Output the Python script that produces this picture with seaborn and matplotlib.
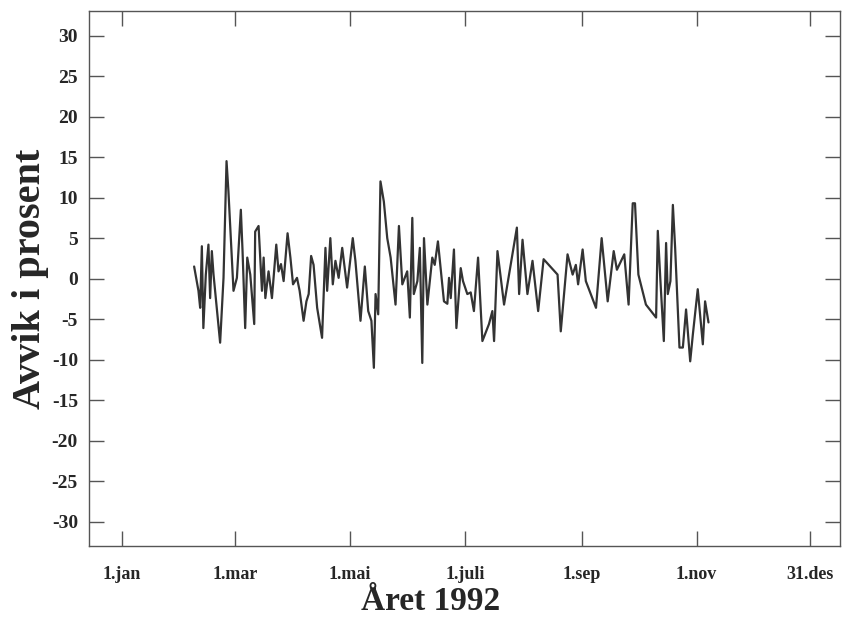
import matplotlib
matplotlib.use("Agg")
import matplotlib.pyplot as plt
import seaborn as sns
import pandas as pd

# Day of year 1992 (1 = 1 Jan) and deviation in percent
days = [39.3, 41.6, 42.5, 43.4, 44.2, 45.5, 46.9, 47.8, 48.7, 49.6, 53.1, 54.9,
        56.5, 57.5, 60.2, 62.0, 64.1, 65.0, 66.4, 67.5, 69.1, 71.2, 71.7, 73.5,
        75.3, 76.2, 77.1, 78.8, 80.6, 82.9, 84.1, 85.4, 86.8, 88.9, 90.4, 91.8,
        93.9, 95.3, 97.4, 98.9, 100.1, 101.4, 102.7, 104.6, 107.2, 109.0, 109.9,
        111.6, 112.9, 114.3, 116.0, 117.9, 120.5, 123.5, 124.9, 127.6, 129.9,
        131.7, 133.4, 134.7, 135.6, 137.0, 138.2, 140.0, 141.8, 143.6, 146.2,
        148.0, 149.8, 152.4, 153.8, 155.1, 155.9, 157.8, 159.1, 160.4, 161.3,
        163.1, 165.7, 167.0, 168.7, 171.9, 173.7, 174.6, 175.5, 177.2, 178.5,
        180.8, 182.0, 184.3, 186.1, 187.8, 190.0, 192.3, 195.8, 197.6, 198.5,
        200.3, 203.8, 210.6, 211.8, 213.6, 216.2, 218.9, 221.9, 224.8, 232.2,
        233.9, 237.5, 240.2, 241.9, 243.1, 245.5, 247.2, 252.6, 255.6, 258.8,
        262.0, 263.7, 267.6, 269.9, 272.1, 273.3, 275.1, 279.1, 284.5, 285.4,
        286.8, 288.6, 289.8, 290.7, 292.1, 293.4, 294.6, 296.9, 298.7, 300.4,
        302.6, 304.0, 306.6, 309.3, 310.5, 312.3]
values = [1.5, -1.5, -3.6, 4.0, -6.1, 0.5, 4.2, -2.4, 3.4, 0.5, -7.9, 0.1,
          14.5, 10.8, -1.5, 0.1, 8.5, 3.4, -6.1, 2.6, 0.5, -5.6, 5.8, 6.5,
          -1.5, 2.6, -2.4, 0.9, -2.4, 4.2, 0.9, 1.8, -0.3, 5.6, 2.6, -0.7,
          0.1, -1.5, -5.2, -2.8, -1.9, 2.8, 1.7, -3.6, -7.3, 3.8, -1.5,
          5.0, -0.7, 2.2, 0.1, 3.8, -1.1, 5.0, 2.2, -5.2, 1.5,
          -4.0, -5.2, -11.0, -1.9, -4.4, 12.0, 9.5, 5.0, 2.6, -3.2,
          6.5, -0.7, 0.9, -4.8, 7.5, -1.9, -0.3, 3.8, -10.4, 5.0,
          -3.2, 2.6, 1.7, 4.6, -2.8, -3.1, 0.1, -2.4, 3.6, -6.1,
          1.3, -0.3, -1.9, -1.7, -4.0, 2.6, -7.7, -5.6, -4.0, -7.7,
          3.4, -3.2, 6.3, -1.9, 4.8, -1.9, 2.2, -4.0, 2.4, 0.5,
          -6.5, 3.0, 0.5, 1.7, -0.7, 3.6, -0.3, -3.6, 5.0, -2.8,
          3.4, 1.1, 3.0, -3.2, 9.3, 9.3, 0.5, -3.2, -4.8, 5.9,
          -0.3, -7.7, 4.4, -1.9, -0.3, 9.1, 3.8, -8.5, -8.5, -3.8,
          -10.2, -6.9, -1.3, -8.1, -2.8, -5.4]

tick_days = [1, 61, 122, 183, 245, 306, 366]
tick_labels = ["1.jan", "1.mar", "1.mai", "1.juli", "1.sep", "1.nov", "31.des"]
y_ticks = list(range(-30, 31, 5))

df = pd.DataFrame({"day": days, "avvik": values})

sns.set_theme(style="white")
plt.rcParams["font.family"] = ["Liberation Serif", "DejaVu Serif"]
plt.rcParams["font.weight"] = "bold"

fig = plt.figure(figsize=(8.5, 6.22), dpi=100)
ax = fig.add_axes([0.1047, 0.122, 0.8833, 0.860])

sns.lineplot(data=df, x="day", y="avvik", ax=ax, color="#333333",
             linewidth=1.6, estimator=None)

ax.set_xlim(-16.5, 382)
ax.set_ylim(-33, 33)
ax.set_xticks(tick_days)
ax.set_xticklabels(tick_labels)
ax.set_yticks(y_ticks)
ax.set_yticklabels([str(v) for v in y_ticks])

ax.tick_params(axis="both", direction="in", length=11, width=1.0,
               color="#555555", top=True, right=True, bottom=True, left=True)
ax.tick_params(axis="x", labelsize=13, pad=14)
ax.tick_params(axis="y", labelsize=14, pad=8)
for lab in ax.get_xticklabels() + ax.get_yticklabels():
    lab.set_fontweight("bold")

for sp in ax.spines.values():
    sp.set_visible(True)
    sp.set_color("#555555")
    sp.set_linewidth(1.0)

ax.set_xlabel("Året 1992", fontsize=24, fontweight="bold", labelpad=2)
ax.xaxis.set_label_coords(0.455, -0.075)
ax.set_ylabel("Avvik i prosent", fontsize=29, fontweight="bold", labelpad=2)
ax.grid(False)

fig.savefig("out.png", dpi=100)
